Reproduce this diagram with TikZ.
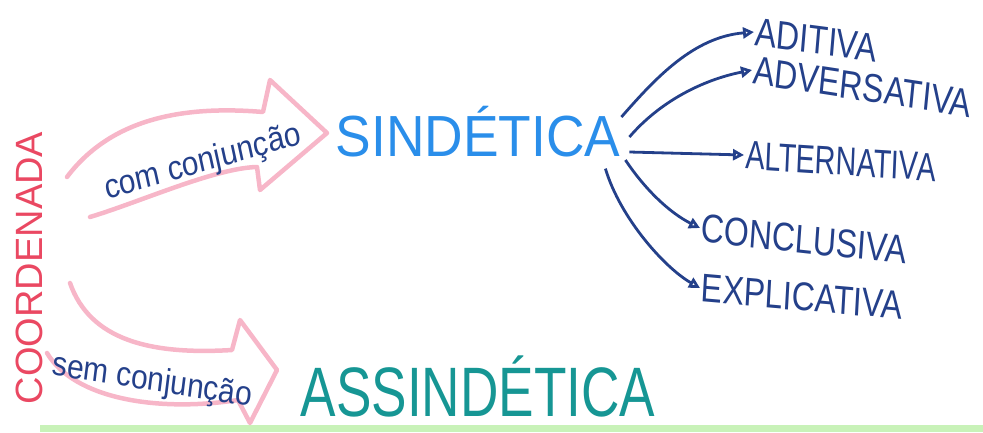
\documentclass[tikz,border=0pt]{standalone}
\usepackage{fontspec}
\setmainfont{Liberation Sans}
\usetikzlibrary{arrows.meta}
\definecolor{arrpink}{RGB}{247,182,200}
\definecolor{sindblue}{RGB}{42,142,234}
\definecolor{assteal}{RGB}{22,150,148}
\definecolor{ink}{RGB}{36,64,138}
\definecolor{coordred}{RGB}{234,72,98}
\definecolor{stripgreen}{RGB}{200,242,184}

\begin{document}
\begin{tikzpicture}[x=1pt, y=-1pt,
    pinkarr/.style={draw=arrpink, line width=4.5pt, line join=round, line cap=round},
    conn/.style={draw=ink, line width=2.8pt, -{Triangle[open, length=11pt, width=11pt]}},
    kind/.style={font=\fontsize{40}{40}\selectfont, text=ink, xscale=0.8,
                 inner sep=2pt, anchor=west},
    how/.style={font=\fontsize{34}{34}\selectfont, text=ink, xscale=0.88, inner sep=1pt}]
  \useasboundingbox (0,0) rectangle (983,432);
  \fill[stripgreen] (40,425) rectangle (983,432);

  % pink arrows (open at the tail)
  \coordinate (comtop) at (67,177);
  \coordinate (combot) at (90,217);
  \coordinate (semtop) at (70,283);
  \coordinate (sembot) at (47,353);
  \draw[pinkarr] (comtop) .. controls (110,120) and (180,105) .. (263,112)
    -- (270,80) -- (327,133) -- (260,190) -- (257,167)
    .. controls (215,168) and (140,202) .. (combot);
  \draw[pinkarr] (semtop) .. controls (90,340) and (150,355) .. (232,350)
    -- (240,320) -- (277,370) -- (250,423) -- (238,400)
    .. controls (160,412) and (75,400) .. (sembot);

  \node[font=\fontsize{38}{38}\selectfont, text=coordred, rotate=90, inner sep=0pt]
    (coord) at (29,268) {COORDENADA};
  \node[how, rotate=14] (com) at (203,163) {com conjunção};
  \node[how, rotate=-8] (sem) at (152,382) {sem conjunção};

  \node[font=\fontsize{58}{58}\selectfont, text=sindblue, xscale=0.92, inner sep=1pt]
    (sind) at (478,132) {SINDÉTICA};
  \node[font=\fontsize{70}{70}\selectfont, text=assteal, xscale=0.76, inner sep=1pt]
    (assind) at (478,386) {ASSINDÉTICA};

  \node[kind, rotate=-6] (adit)   at (754,32)  {ADITIVA};
  \node[kind, rotate=-7] (advers) at (752,70)  {ADVERSATIVA};
  \node[kind, rotate=-3, xscale=0.9] (altern) at (744,155) {ALTERNATIVA};
  \node[kind, rotate=-5] (conclu) at (700,228) {CONCLUSIVA};
  \node[kind, rotate=-4] (explic) at (700,288) {EXPLICATIVA};

  \draw[conn] ([yshift=15pt]sind.east) .. controls +(35,-40) and +(-60,5) .. (adit.west);
  \draw[conn] ([xshift=8pt,yshift=-5pt]sind.east) .. controls +(30,-35) and +(-50,10) .. (advers.west);
  \draw[conn] ([xshift=8pt,yshift=-20pt]sind.east) -- (altern.west);
  \draw[conn] ([xshift=4pt,yshift=-28pt]sind.east) .. controls +(20,30) and +(-30,-15) .. (conclu.west);
  \draw[conn] ([xshift=-16pt,yshift=-10pt]sind.south east) .. controls +(15,50) and +(-35,-20) .. (explic.west);
\end{tikzpicture}
\end{document}
